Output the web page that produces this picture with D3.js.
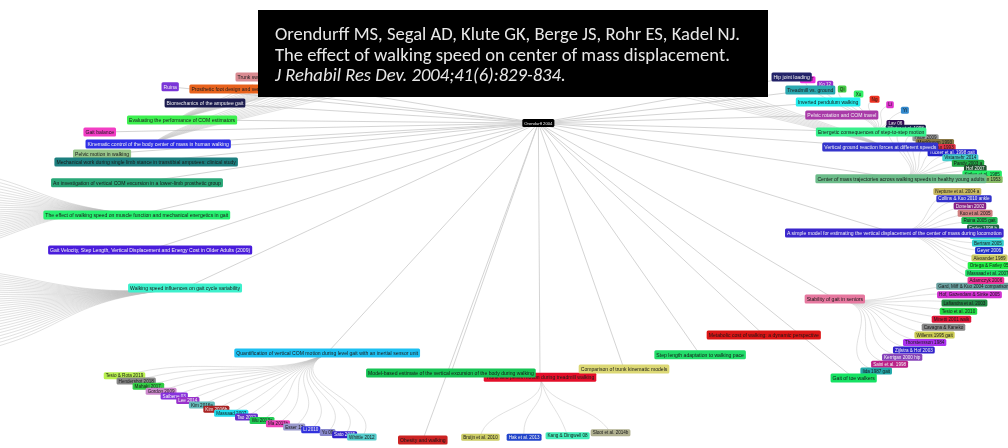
<!DOCTYPE html>
<html>
<head>
<meta charset="utf-8">
<script src="https://cdn.jsdelivr.net/npm/d3@7"></script>
<style>
  html, body { margin: 0; padding: 0; background: #fff; overflow: hidden; }
  #chart { width: 1008px; height: 448px; }
</style>
</head>
<body>
<div id="chart"></div>
<script>
/* ── citation tree data ── */
const rootTitle = "Orendurff 2004";
const rootAngle = -84.6;
const rootReach = 0.695;

const citationLines = [
  "Orendurff MS, Segal AD, Klute GK, Berge JS, Rohr ES, Kadel NJ.",
  "The effect of walking speed on center of mass displacement.",
  "J Rehabil Res Dev. 2004;41(6):829-834."
];

// papers citing the root paper
const topicTitles = [
  "Trunk sway gait",
  "Prosthetic foot design and vertical COM motion",
  "Ruina",
  "Biomechanics of the amputee gait",
  "Evaluating the performance of COM estimators",
  "Gait balance",
  "Kinematic control of the body center of mass in human walking",
  "Pelvic motion in walking",
  "Mechanical work during single limb stance in transtibial amputees: clinical study",
  "An investigation of vertical COM excursion in a lower-limb prosthetic group",
  "The effect of walking speed on muscle function and mechanical energetics in gait",
  "Gait Velocity, Step Length, Vertical Displacement and Energy Cost in Older Adults (2009)",
  "Walking speed influences on gait cycle variability",
  "Quantification of vertical COM motion during level gait with an inertial sensor unit",
  "Trunk and pelvis motion during treadmill walking",
  "Model-based estimate of the vertical excursion of the body during walking",
  "Comparison of trunk kinematic models",
  "Step length adaptation to walking pace",
  "Metabolic cost of walking: a dynamic perspective",
  "Stability of gait in seniors",
  "Gait of toe walkers",
  "A simple model for estimating the vertical displacement of the center of mass during locomotion",
  "Center of mass trajectories across walking speeds in healthy young adults",
  "Vertical ground reaction forces at different speeds",
  "Energetic consequences of step-to-step motion",
  "Pelvic rotation and COM travel",
  "Inverted pendulum walking",
  "Treadmill vs. ground",
  "Hip joint loading",
  "Obesity and walking"
];
// polar placement on the elliptical ring (degrees, fraction of ring)
const topicAngle = [-117.8, -120.5, -126.8, -126.5, -131.8, -140.9, -139.3, -146, -145, -151.9,
  -163, -176.6, 166.2, 125.6, 83.6, 100.2, 67.7, 52.4, 37.9, 18,
  42, -9.5, -27.6, -37.7, -42, -48, -51.6, -55.2, -58.8, 99.8];
const topicReach = [1.05, 1.006, 1.096, 0.989, 0.95, 1.024, 0.897, 0.953, 0.859, 0.818,
  0.755, 0.697, 0.646, 0.599, 0.616, 0.599, 0.615, 0.627, 0.643, 0.68,
  0.92, 0.774, 0.876, 0.93, 0.966, 0.987, 1.02, 1.049, 1.085, 0.947];

// second generation in view: papers citing one of the topics
const groupParent = [13, 14, 19, 21, 22, 24];
const groupFrom   = [141, 93, 9, -21, -42, -57];
const groupTo     = [107, 77, 38.5, 7, -23, -44];
const groupReach  = [0.96, 0.92, 0.93, 0.95, 1.03, 1.09];
const groupTitles = [
  ["Tesio & Rota 2019", "Hendershot 2018", "Mahaki 2017.", "Gordon 2009", "Saibene 03", "Lee 2014",
   "Kim 2016a", "Kim 2016b", "Massaad 2007", "Tao 2012", "Wu 2013a", "Ma 2011b", "Esser 12",
   "Li 2010", "Yu 09", "Sato 2015", "Whittle 2012"],
  ["Bruijn et al. 2010", "Hak et al. 2013", "Kang & Dingwell 08", "Sloot et al. 2014b"],
  ["Gard, Miff & Kuo 2004 comparison", "Hof, Gazendam & Sinke 2005", "Lafiandra et al. 2003",
   "Tesio et al. 2010", "Minetti 2001 walk", "Cavagna & Kaneko", "Willems 1995 gait",
   "Thorstensson 1984", "Zijlstra & Hof 2003", "Kerrigan 2000 hip", "Saini et al. 1998", "Iida 1987 gait"],
  ["Neptune et al. 2004 a", "Collins & Kuo 2010 ankle", "Donelan 2002", "Kuo et al. 2005",
   "Ruina 2005 gait", "Farley 1998 b", "Srinivasan 06", "Bertram 2005", "Geyer 2006",
   "Alexander 1989", "Ortega & Farley 05", "Massaad et al. 2007", "Adamczyk 2006"],
  ["Lay 06", "Winter et al. 1998", "Ho 03", "Hsue 2009", "MacKinnon 1993", "Jian 1993",
   "Tucker et al. 1998 gait", "Vistamehr 2014", "Pandy 2003 a", "Hof 2007", "Kirtley et al. 1985", "Inman 1953"],
  ["Lu 07", "Ko 12", "Qi", "Xu", "Ng", "Li", "Yi"]
];

// second generation out of view (off the page or under the citation box): only their links show
const hiddenParent = [6, 23, 10, 12, 4];
const hiddenFrom   = [-116, -66, -157, 178, -121];
const hiddenTo     = [-96, -84, -180, 155, -100];
const hiddenReach  = [1.0, 1.0, 1.2, 1.2, 1.02];
const hiddenCount  = [10, 8, 26, 30, 12];

/* ── colours (style) ── */
const topicColors = ["#d98a91", "#e8621e", "#7a35d8", "#1c1c50", "#3ef050", "#f23cc4", "#2e2ee6",
  "#98c48a", "#1b7f7f", "#2aa878", "#28f070", "#4a1fdc", "#3df0cc", "#1fc0f2", "#e4102a",
  "#14c454", "#dcd874", "#22dd6a", "#dc1212", "#e6789f", "#14e264", "#3a26cc", "#6cbc8a",
  "#3434cc", "#38f08c", "#a93aa8", "#26eeee", "#2aa8b0", "#242468", "#cc2424"];
const groupColors = [
  ["#b8f050", "#888888", "#33cc44", "#cc88cc", "#8833dd", "#9933cc", "#66bbbb", "#aa2222", "#22ddee",
   "#6633cc", "#22cc55", "#ee44bb", "#9999cc", "#3333dd", "#8888cc", "#3322cc", "#55cccc"],
  ["#cccc66", "#2244cc", "#44eebb", "#b0b090"],
  ["#6aa0a0", "#d030d0", "#228844", "#22dd44", "#e01838", "#888888", "#cccc55", "#aa33ee",
   "#3322cc", "#8844bb", "#bb2288", "#22aaaa"],
  ["#c8b860", "#3333cc", "#882288", "#d08080", "#22bb55", "#226644", "#44dddd", "#33cccc",
   "#2233cc", "#cccc66", "#22ee44", "#22dd66", "#ee3399"],
  ["#331155", "#1c1c50", "#ee44cc", "#999999", "#887744", "#dd3344", "#2222cc", "#44cccc",
   "#22aa44", "#225533", "#22ee66", "#88bb66"],
  ["#ee33dd", "#9933cc", "#44cc44", "#33ee66", "#ee3322", "#dd33cc", "#3388cc"]
];

/* ── layout ── */
const W = 1008, H = 448;
const ring = { cx: 505, cy: 258, rx: 510, ry: 195 };
const xs = d3.scaleLinear().domain([-1, 1]).range([ring.cx - ring.rx, ring.cx + ring.rx]);
const ys = d3.scaleLinear().domain([-1, 1]).range([ring.cy - ring.ry, ring.cy + ring.ry]);
const rad = d3.scaleLinear().domain([0, 360]).range([0, 2 * Math.PI]);
const project = (angle, reach) => {
  const a = rad(angle);
  return [xs(reach * Math.cos(a)), ys(reach * Math.sin(a))];
};

const root = { title: rootTitle, angle: rootAngle, reach: rootReach, color: "#000" };
[root.x, root.y] = project(root.angle, root.reach);

const topics = topicTitles.map((t, i) => {
  const [x, y] = project(topicAngle[i], topicReach[i]);
  return { title: t, angle: topicAngle[i], reach: topicReach[i], x, y, color: topicColors[i] };
});

function spreadLeaves(parentIdx, from, to, reach, n) {
  const spread = d3.scaleLinear().domain([0, Math.max(1, n - 1)]).range([from, to]);
  return d3.range(n).map(j => {
    const angle = spread(j);
    const [x, y] = project(angle, reach);
    return { angle, reach, x, y, parent: topics[parentIdx] };
  });
}

const leaves = groupTitles.flatMap((titles, g) =>
  spreadLeaves(groupParent[g], groupFrom[g], groupTo[g], groupReach[g], titles.length)
    .map((d, j) => Object.assign(d, { title: titles[j], color: groupColors[g][j] })));

const hiddenLeaves = hiddenCount.flatMap((n, g) =>
  spreadLeaves(hiddenParent[g], hiddenFrom[g], hiddenTo[g], hiddenReach[g], n));

/* ── svg ── */
const svg = d3.select("#chart").append("svg")
  .attr("width", W).attr("height", H)
  .attr("viewBox", `0 0 ${W} ${H}`);

svg.append("defs").append("filter").attr("id", "soft")
  .append("feGaussianBlur").attr("stdDeviation", 0.45);

const g = svg.append("g").attr("filter", "url(#soft)");

/* links: root → topics (straight) */
g.append("g").selectAll("line")
  .data(topics)
  .join("line")
    .attr("x1", root.x).attr("y1", root.y)
    .attr("x2", d => d.x).attr("y2", d => d.y)
    .attr("stroke", "#cfcfcf")
    .attr("stroke-width", 0.9);

/* links: topics → leaves (radial bezier) */
const radialLink = d => {
  const p = d.parent;
  const mid = (p.reach + d.reach) / 2;
  const c1 = project(p.angle, mid), c2 = project(d.angle, mid);
  const path = d3.path();
  path.moveTo(p.x, p.y);
  path.bezierCurveTo(c1[0], c1[1], c2[0], c2[1], d.x, d.y);
  return path.toString();
};
g.append("g").selectAll("path")
  .data(leaves.concat(hiddenLeaves))
  .join("path")
    .attr("d", radialLink)
    .attr("fill", "none")
    .attr("stroke", "#bdbdbd")
    .attr("stroke-opacity", 0.75)
    .attr("stroke-width", 0.6);

/* node labels */
const textFill = c => d3.lab(c).l < 45 ? "#f2f2f2" : "#1a1a1a";
function drawNodes(layer, data, fontSize, boxH) {
  const node = layer.selectAll("g")
    .data(data)
    .join("g")
      .attr("transform", d => `translate(${d.x},${d.y})`);
  node.append("text")
    .attr("text-anchor", "middle")
    .attr("dy", "0.35em")
    .attr("fill", d => textFill(d.color))
    .style("font-family", "'Liberation Sans', Arial, sans-serif")
    .style("font-size", fontSize + "px")
    .text(d => d.title);
  node.each(function(d) {
    const w = this.querySelector("text").getComputedTextLength();
    d3.select(this).insert("rect", "text")
      .attr("x", -w / 2 - 2).attr("y", -boxH / 2)
      .attr("width", w + 4).attr("height", boxH)
      .attr("rx", 1.5)
      .attr("fill", d.color);
  });
}
drawNodes(g.append("g"), leaves, 4.6, 7);
drawNodes(g.append("g"), topics, 5.1, 9);
drawNodes(g.append("g"), [root], 4.2, 8);

/* citation box of the root paper */
const tip = svg.append("g").attr("filter", "url(#soft)");
tip.append("rect")
  .attr("x", 258).attr("y", 10)
  .attr("width", 510).attr("height", 87)
  .attr("fill", "#000");
tip.selectAll("text")
  .data(citationLines)
  .join("text")
    .attr("x", 275)
    .attr("y", (d, i) => 40 + i * 20.5)
    .attr("fill", "#e8e8e8")
    .style("font-family", "Carlito, Lato, sans-serif")
    .style("font-size", "18.6px")
    .style("font-style", (d, i) => i === 2 ? "italic" : "normal")
    .text(d => d);
</script>
</body>
</html>
